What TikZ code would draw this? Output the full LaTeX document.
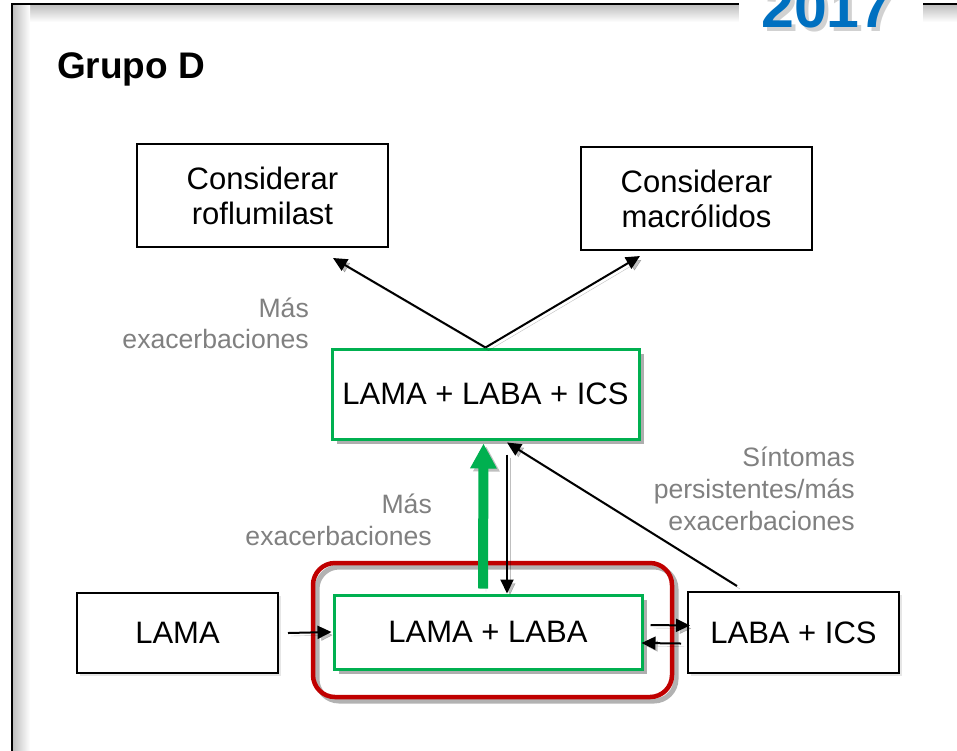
\documentclass[tikz,border=0pt]{standalone}
\usepackage{fontspec}
\setmainfont{Liberation Sans}
\usetikzlibrary{arrows.meta,shadows,calc}
\definecolor{gGreen}{HTML}{00B050}
\definecolor{gRed}{HTML}{C00000}
\definecolor{gBlue}{HTML}{0070C0}
\definecolor{gGray}{HTML}{808080}
\begin{document}
\begin{tikzpicture}[x=1pt,y=-1pt,
  box/.style={draw=black, line width=2pt, fill=white, inner sep=0pt, align=center,
    font=\fontsize{31}{35}\selectfont},
  gbox/.style={box, draw=gGreen, line width=3pt,
    drop shadow={shadow xshift=5pt, shadow yshift=-5pt, opacity=0.45, fill=black!70}},
  lbl/.style={text=gGray, font=\fontsize{26.6}{32}\selectfont, inner sep=0pt, anchor=base east},
  ashadow/.style={preaction={draw=black, opacity=0.25, transform canvas={shift={(3pt,-3pt)}}}},
  arr/.style={ashadow, line width=2pt, -{Triangle[length=14pt,width=13pt]}},
  garr/.style={ashadow, draw=gGreen, line width=10pt, -{Triangle[length=25pt,width=25pt]}}
]
\useasboundingbox (0,0) rectangle (957,750);
% frame with inner shading
\shade[top color=black!25, bottom color=white] (13,5) rectangle (970,22);
\shade[left color=black!25, right color=white] (13,5) rectangle (30,760);
\draw[line width=2pt] (12,760) -- (12,4) -- (970,4);
% year tab
\fill[white] (739,0) rectangle (923,34);
\node[font=\bfseries\fontsize{59}{59}\selectfont, text=black, opacity=0.18, anchor=base, inner sep=0pt] (yrs) at (831,31) {2017};
\node[font=\bfseries\fontsize{59}{59}\selectfont, text=gBlue, anchor=base, inner sep=0pt] (yr) at (827,27) {2017};
% title
\node[font=\bfseries\fontsize{37}{40}\selectfont, anchor=base west, inner sep=0pt] (title) at (57,78) {Grupo D};
% top boxes
\node[box, minimum width=251pt, minimum height=103pt] (rof) at (262.5,195.5) {Considerar\\roflumilast};
\node[box, minimum width=231pt, minimum height=103pt] (mac) at (696.5,198.5) {Considerar\\macrólidos};
% red group
\node[draw=gRed, line width=4.5pt, rounded corners=22pt, minimum width=359pt, minimum height=134pt,
  preaction={draw=black, line width=5pt, opacity=0.3, transform canvas={shift={(4pt,-4pt)}}}] (grp) at (492.5,630) {};
% green boxes
\node[gbox, minimum width=307pt, minimum height=90pt] (ics) at (485.5,394) {LAMA + LABA + ICS};
\node[gbox, minimum width=308pt, minimum height=74pt] (lab) at (488,632) {LAMA + LABA};
% bottom black boxes
\node[box, minimum width=201pt, minimum height=80pt,
  drop shadow={shadow xshift=3pt, shadow yshift=-3pt, opacity=0.2}] (lama) at (177.5,633) {LAMA};
\node[box, minimum width=211pt, minimum height=81pt,
  drop shadow={shadow xshift=3pt, shadow yshift=-3pt, opacity=0.2}] (labaics) at (793.5,632.5) {LABA + ICS};
% labels
\node[lbl] (l1a) at (309,317) {Más};
\node[lbl] (l1b) at (309,348) {exacerbaciones};
\node[lbl] (l2a) at (432,513) {Más};
\node[lbl] (l2b) at (432,545) {exacerbaciones};
\node[lbl] (l3a) at (855,466) {Síntomas};
\node[lbl] (l3b) at (855,498) {persistentes/más};
\node[lbl] (l3c) at (855,530) {exacerbaciones};
% connectors
\draw[arr] (ics.north) -- ([shift={(70.5,10)}]rof.south);
\draw[arr] (ics.north) -- ([shift={(-56.5,5)}]mac.south);
\draw[garr] ([shift={(-5,-5)}]lab.north) -- ([shift={(-2,3)}]ics.south);
\draw[arr] ([shift={(21.5,14)}]ics.south) -- ([shift={(19,0)}]lab.north);
\draw[arr] ([shift={(-56.5,-5)}]labaics.north) -- ([shift={(21.5,2)}]ics.south);
\draw[arr] ([xshift=9pt]lama.east) -- ([xshift=-1pt]lab.west);
\draw[arr] ([shift={(7,-7)}]lab.east) -- ([shift={(3,-7)}]labaics.west);
\draw[arr] ([shift={(-6,11)}]labaics.west) -- ([shift={(-2,11)}]lab.east);
\end{tikzpicture}
\end{document}
